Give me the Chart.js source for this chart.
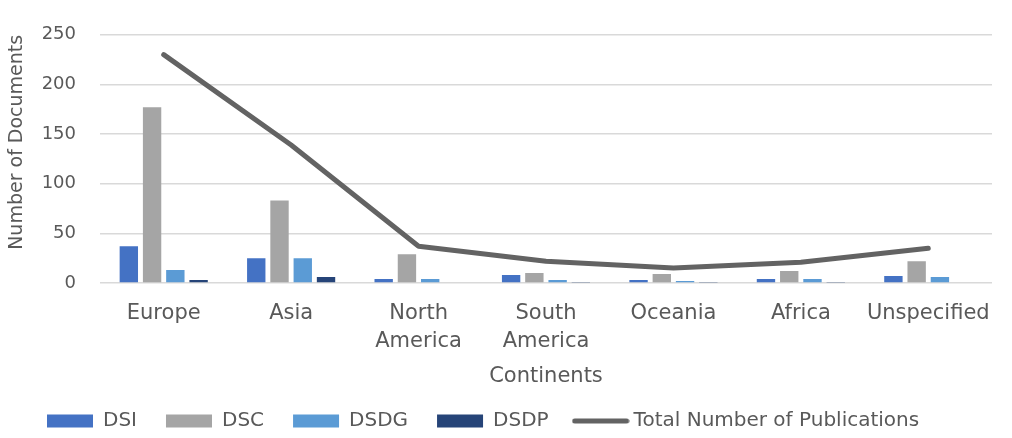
<!DOCTYPE html>
<html>
<head>
<meta charset="utf-8">
<script src="https://cdn.jsdelivr.net/npm/chart.js@4.4.1/dist/chart.umd.min.js"></script>
<style>
  html, body { margin: 0; padding: 0; background: #ffffff; }
  #wrap { width: 1012px; height: 438px; position: relative; }
</style>
</head>
<body>
<div id="wrap"><canvas id="chart"></canvas></div>
<script>
// Publications per continent, split by document type
const continents = ['Europe', 'Asia', ['North', 'America'], ['South', 'America'], 'Oceania', 'Africa', 'Unspecified'];
const dsi   = [37, 25, 4, 8, 3, 4, 7];
const dsc   = [177, 83, 29, 10, 9, 12, 22];
const dsdg  = [13, 25, 4, 3, 2, 4, 6];
const dsdp  = [3, 6, 0, 1, 1, 1, 0];
const totalPublications = [230, 139, 37, 22, 15, 21, 35];
const yTicks = [0, 50, 100, 150, 200, 250];

const FONT = '"DejaVu Sans", "Liberation Sans", sans-serif';
const TEXT = '#595959';
const LINE_COLOR = '#636363';

// Legend swatch for the total line: a thick stroke with round ends
function lineSwatch(color) {
  const c = document.createElement('canvas');
  c.width = 58; c.height = 6;
  const g = c.getContext('2d');
  g.strokeStyle = color; g.lineWidth = 5; g.lineCap = 'round';
  g.beginPath(); g.moveTo(3, 3); g.lineTo(55, 3); g.stroke();
  return c;
}
const totalSwatch = lineSwatch(LINE_COLOR);

// Moves the legend row to its spot under the axis title
const legendPlacement = {
  id: 'legendPlacement',
  afterLayout(chart) {
    const lg = chart.legend;
    if (!lg) return;
    lg.left += 18;
    lg.top -= 7;
  }
};

new Chart(document.getElementById('chart'), {
  data: {
    labels: continents,
    datasets: [
      { type: 'line', label: 'Total Number of Publications', data: totalPublications,
        borderColor: LINE_COLOR, backgroundColor: LINE_COLOR, borderWidth: 5,
        borderCapStyle: 'round', borderJoinStyle: 'round',
        pointRadius: 0, tension: 0, order: 0 },
      { type: 'bar', label: 'DSI',  data: dsi,  backgroundColor: '#4472C4', order: 1 },
      { type: 'bar', label: 'DSC',  data: dsc,  backgroundColor: '#A5A5A5', order: 1 },
      { type: 'bar', label: 'DSDG', data: dsdg, backgroundColor: '#5B9BD5', order: 1 },
      { type: 'bar', label: 'DSDP', data: dsdp, backgroundColor: '#264478', order: 1 }
    ]
  },
  options: {
    responsive: true,
    maintainAspectRatio: false,
    animation: false,
    layout: { padding: { top: 34, right: 20, bottom: -10, left: 0 } },
    datasets: {
      bar: { categoryPercentage: 0.73, barPercentage: 0.79, borderWidth: 0 }
    },
    scales: {
      x: {
        afterFit(scale) { scale.height = 106; },
        grid: { display: false, drawTicks: false },
        border: { display: false },
        ticks: {
          color: TEXT, font: { family: FONT, size: 21, lineHeight: 1.333 },
          padding: 17, autoSkip: false, maxRotation: 0
        },
        title: {
          display: true, text: 'Continents', color: TEXT,
          font: { family: FONT, size: 21, lineHeight: 1.2 },
          padding: { top: 0, bottom: 0 }
        }
      },
      y: {
        min: 0, max: 250,
        afterBuildTicks(scale) { scale.ticks = yTicks.map(v => ({ value: v })); },
        afterFit(scale) { scale.width = 100; },
        grid: { color: '#d9d9d9', lineWidth: 1.5, drawTicks: false },
        border: { display: false },
        ticks: { color: TEXT, font: { family: FONT, size: 18 }, padding: 24 },
        title: {
          display: true, text: 'Number of Documents', color: TEXT, align: 'end',
          font: { family: FONT, size: 19, lineHeight: 1.2 },
          padding: { top: 6, bottom: 0 }
        }
      }
    },
    plugins: {
      tooltip: { enabled: false },
      legend: {
        position: 'bottom',
        align: 'start',
        labels: {
          color: TEXT,
          font: { family: FONT, size: 20 },
          usePointStyle: true,
          pointStyleWidth: 46,
          boxHeight: 13,
          padding: 29,
          sort: (a, b) => a.datasetIndex === 0 ? 1 : (b.datasetIndex === 0 ? -1 : a.datasetIndex - b.datasetIndex),
          generateLabels(chart) {
            const items = Chart.defaults.plugins.legend.labels.generateLabels(chart);
            return items.map(it => {
              const ds = chart.data.datasets[it.datasetIndex];
              if (ds.type === 'line') {
                return Object.assign(it, { pointStyle: totalSwatch, lineWidth: 0 });
              }
              return Object.assign(it, { pointStyle: 'rect', lineWidth: 0, strokeStyle: ds.backgroundColor });
            });
          }
        }
      }
    }
  },
  plugins: [legendPlacement]
});
</script>
</body>
</html>
